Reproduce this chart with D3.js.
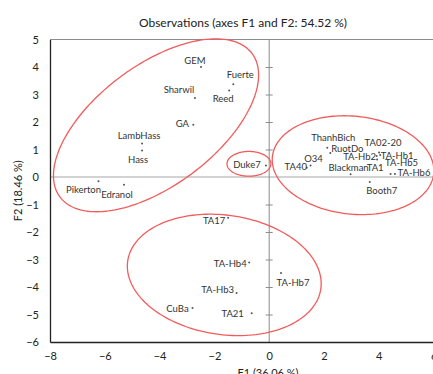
<!DOCTYPE html>
<html>
<head>
<meta charset="utf-8">
<script src="https://cdn.jsdelivr.net/npm/d3@7"></script>
<style>
  html, body { margin: 0; padding: 0; background: #fff; }
  svg { display: block; font-family: Lato, "Open Sans", sans-serif; }
</style>
</head>
<body>
<svg id="chart" width="433" height="374"></svg>
<script>
// Observation names and their scores on the first two factors
const names = ["GEM", "Fuerte", "Reed", "Sharwil", "GA", "LambHass", "Hass", "Pikerton", "Edranol",
  "Duke7", "ThanhBich", "RuotDo", "O34", "TA40", "Blackman", "TA02-20", "TA-Hb1", "TA-Hb2", "TA1",
  "TA-Hb5", "TA-Hb6", "Booth7", "TA17", "TA-Hb4", "TA-Hb7", "TA-Hb3", "CuBa", "TA21"];
const f1 = [-2.49, -1.31, -1.46, -2.71, -2.77, -4.64, -4.64, -6.23, -5.30,
  -0.12, 2.12, 2.23, 1.51, 1.37, 2.97, 4.01, 4.05, 3.92, 3.94,
  4.43, 4.59, 3.67, -1.50, -0.73, 0.43, -1.19, -2.80, -0.64];
const f2 = [4.00, 3.37, 3.15, 2.87, 1.90, 1.22, 0.96, -0.15, -0.28,
  0.42, 1.06, 0.87, 0.42, 0.34, 0.10, 0.89, 0.80, 0.76, 0.64,
  0.11, 0.11, -0.18, -1.48, -3.11, -3.49, -4.22, -4.76, -4.95];

// Where each name sits relative to its point (pixels)
const labelOffsets = [[-6, -7], [7, -10], [-6, 8], [-16, -9], [-11, -1], [-3, -8], [-4, 9], [-15, 8], [-7, 10],
  [-19, -1], [6, -10], [17, -5], [3, -7], [-11, -1], [-2, -7], [4, -10], [17, 0], [-17, 0], [-2, 8],
  [11, -11], [19, -1], [12, 9], [-14, 3], [-19, 1], [12, 10], [-19, -4], [-15, 1], [-19, 0]];

// Group outlines: centre (F1, F2), semi-axes in axis units, tilt in degrees
const groupCx = [-4.13, -0.74, 3.06, -1.64];
const groupCy = [1.88, 0.48, 0.43, -3.56];
const groupA = [4.37, 0.80, 2.96, 3.56];
const groupB = [2.19, 0.45, 1.78, 2.17];
const groupTilt = [36.6, 0, -6, -8.2];

const xTicks = [-8, -6, -4, -2, 0, 2, 4, 6, 8];
const yTicks = [-6, -5, -4, -3, -2, -1, 0, 1, 2, 3, 4, 5];

const svg = d3.select("#chart");
const x = d3.scaleLinear().domain([-8, 8]).range([50, 488.4]);
const y = d3.scaleLinear().domain([-6, 5]).range([342, 39.5]);

// Title
svg.append("text").attr("x", 243).attr("y", 22).attr("text-anchor", "middle")
  .attr("dominant-baseline", "central").attr("font-size", 12).attr("fill", "#222")
  .text("Observations (axes F1 and F2: 54.52 %)");

// Zero lines
svg.append("line").attr("x1", x(-8)).attr("x2", x(8)).attr("y1", y(0)).attr("y2", y(0))
  .attr("stroke", "#a6a6a6").attr("stroke-width", 1);
svg.append("line").attr("x1", x(0)).attr("x2", x(0)).attr("y1", y(5)).attr("y2", y(-6))
  .attr("stroke", "#8c8c8c").attr("stroke-width", 1);

// Tick marks along the vertical zero line
svg.append("g").attr("transform", `translate(${x(0)},0)`)
  .call(d3.axisRight(y).tickValues(yTicks.filter(v => v > -6 && v < 5 && v !== 0)).tickSize(3.5).tickFormat(""))
  .call(g => g.select(".domain").remove())
  .call(g => g.selectAll("line").attr("stroke", "#8c8c8c").attr("x1", -3.5));

// Frame
svg.append("line").attr("x1", x(-8)).attr("x2", x(8)).attr("y1", y(5)).attr("y2", y(5))
  .attr("stroke", "#8c8c8c").attr("stroke-width", 1);

// Left axis
const yAxis = svg.append("g").attr("transform", `translate(${x(-8)},0)`)
  .call(d3.axisLeft(y).tickValues(yTicks).tickSize(0).tickPadding(11));
yAxis.select(".domain").attr("stroke", "#222").attr("stroke-width", 1.3);
yAxis.selectAll("text").attr("font-size", 11).attr("fill", "#222").attr("font-family", "Lato, sans-serif");

// Bottom axis
const xAxis = svg.append("g").attr("transform", `translate(0,${y(-6)})`)
  .call(d3.axisBottom(x).tickValues(xTicks).tickSize(0).tickPadding(10));
xAxis.select(".domain").attr("stroke", "#222").attr("stroke-width", 1.3);
xAxis.selectAll("text").attr("font-size", 11).attr("fill", "#222").attr("font-family", "Lato, sans-serif");

// Axis titles
svg.append("text").attr("x", 268).attr("y", 372).attr("text-anchor", "middle")
  .attr("dominant-baseline", "central").attr("font-size", 11).attr("fill", "#222")
  .text("F1 (36.06 %)");
svg.append("text").attr("transform", `translate(17,${(y(5) + y(-6)) / 2}) rotate(-90)`)
  .attr("text-anchor", "middle").attr("dominant-baseline", "central")
  .attr("font-size", 11).attr("fill", "#222").text("F2 (18.46 %)");

// Group outlines, traced in axis units and mapped through the scales
const outline = d3.line().x(d => x(d[0])).y(d => y(d[1])).curve(d3.curveLinearClosed);
groupCx.forEach((cx, i) => {
  const r = groupTilt[i] * Math.PI / 180;
  const pts = d3.range(0, 2 * Math.PI, Math.PI / 90).map(t => {
    const u = groupA[i] * Math.cos(t), v = groupB[i] * Math.sin(t);
    return [cx + u * Math.cos(r) - v * Math.sin(r), groupCy[i] + u * Math.sin(r) + v * Math.cos(r)];
  });
  svg.append("path").attr("d", outline(pts)).attr("fill", "none")
    .attr("stroke", "#f25b5b").attr("stroke-width", 1.3);
});

// Points
svg.append("g").selectAll("circle").data(names).join("circle")
  .attr("cx", (d, i) => x(f1[i])).attr("cy", (d, i) => y(f2[i])).attr("r", 1)
  .attr("fill", "#555");

// Names
svg.append("g").selectAll("text").data(names).join("text")
  .attr("x", (d, i) => x(f1[i]) + labelOffsets[i][0])
  .attr("y", (d, i) => y(f2[i]) + labelOffsets[i][1])
  .attr("text-anchor", "middle").attr("dominant-baseline", "central")
  .attr("font-size", 9.5).attr("fill", "#333")
  .text(d => d);
</script>
</body>
</html>
